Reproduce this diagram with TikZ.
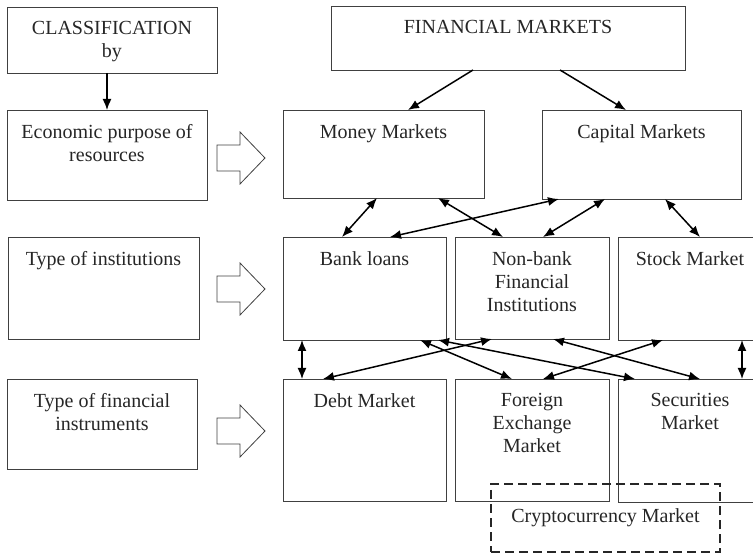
\documentclass[tikz,border=0pt]{standalone}
\usepackage{fontspec}
\setmainfont{Liberation Serif}
\usepackage{tikz}
\usetikzlibrary{arrows.meta,positioning,calc}

\newcommand{\boxfont}{\fontsize{20}{23}\selectfont}

\begin{document}
\begin{tikzpicture}[
  x=1pt, y=-1pt,
  box/.style={rectangle, draw=black!75, line width=0.9pt, inner sep=0pt,
    outer sep=0pt},
  boxtext/.style={anchor=north, yshift=-14pt, inner sep=0pt, align=center,
    font=\boxfont, text=black!85},
  link/.style={{Latex[length=11pt,width=9pt]}-{Latex[length=11pt,width=9pt]},
    line width=1.5pt},
  down/.style={-{Latex[length=11pt,width=9pt]}, line width=1.5pt},
  blockarrow/.style={draw=black!75, line width=0.8pt, fill=white}
]
\useasboundingbox (0,0) rectangle (753,553);
\clip (0,0) rectangle (753,553);

% Left column: classification criteria
\node[box, minimum width=210pt, minimum height=66pt,
  label={[boxtext]north:{CLASSIFICATION\\by}}] (cls) at (112,40) {};
\node[box, minimum width=200pt, minimum height=90pt,
  label={[boxtext]north:{Economic purpose of\\resources}}] (econ) at (107,155) {};
\node[box, minimum width=191pt, minimum height=102pt,
  label={[boxtext]north:{Type of institutions}}] (inst) at (103.5,288) {};
\node[box, minimum width=190pt, minimum height=90pt,
  label={[boxtext]north:{Type of financial\\instruments}}] (instr) at (102,424) {};

% Top
\node[box, minimum width=354pt, minimum height=64pt,
  label={[boxtext]north:{FINANCIAL MARKETS}}] (fm) at (508,38) {};

% Row 1
\node[box, minimum width=201pt, minimum height=88pt,
  label={[boxtext]north:{Money Markets}}] (mm) at (383.5,154) {};
\node[box, minimum width=199pt, minimum height=89pt,
  label={[boxtext]north:{Capital Markets}}] (cap) at (641.5,154.5) {};

% Row 2
\node[box, minimum width=163pt, minimum height=103pt,
  label={[boxtext]north:{Bank loans}}] (bank) at (364.5,288.5) {};
\node[box, minimum width=154pt, minimum height=102pt,
  label={[boxtext]north:{Non-bank\\Financial\\Institutions}}] (nonbank) at (532,288) {};
\node[box, minimum width=144pt, minimum height=103pt,
  label={[boxtext]north:{Stock Market}}] (stock) at (690,288.5) {};

% Row 3
\node[box, minimum width=163pt, minimum height=122pt,
  label={[boxtext]north:{Debt Market}}] (debt) at (364.5,440) {};
\node[box, minimum width=154pt, minimum height=122pt,
  label={[boxtext]north:{Foreign\\Exchange\\Market}}] (forex) at (532,440) {};
\node[box, minimum width=144pt, minimum height=123pt,
  label={[boxtext]north:{Securities\\Market}}] (sec) at (690,440.5) {};

% Dashed extension
\node[rectangle, draw=black!85, line width=2.3pt, dash pattern=on 9pt off 5pt,
  minimum width=229pt, minimum height=68pt, inner sep=0pt, outer sep=0pt,
  font=\boxfont, text=black!85] (crypto) at (605.5,518) {Cryptocurrency Market};

% Block arrows
\foreach \yc in {158,289,431}
  \draw[blockarrow] (217,\yc-13) -- (240,\yc-13) -- (240,\yc-26) -- (265,\yc)
    -- (240,\yc+26) -- (240,\yc+13) -- (217,\yc+13) -- cycle;

% Arrows
\draw[down] ([xshift=100pt]cls.south west) -- ([xshift=100pt]econ.north west);
\draw[down] ([xshift=142pt]fm.south west) -- ([xshift=125pt]mm.north west);
\draw[down] ([xshift=229pt]fm.south west) -- ([xshift=84pt]cap.north west);

\draw[link] ([xshift=94pt]mm.south west) -- ([xshift=59pt]bank.north west);
\draw[link] ([xshift=155pt]mm.south west) -- ([xshift=48pt]nonbank.north west);
\draw[link] ([xshift=17pt]cap.south west) -- ([xshift=107pt]bank.north west);
\draw[link] ([xshift=63pt]cap.south west) -- ([xshift=88pt]nonbank.north west);
\draw[link] ([xshift=123pt]cap.south west) -- ([xshift=82pt]stock.north west);

\draw[link] ([xshift=19pt]bank.south west) -- ([xshift=19pt]debt.north west);
\draw[link] ([xshift=137pt]bank.south west) -- ([xshift=57pt]forex.north west);
\draw[link] ([xshift=155pt]bank.south west) -- ([xshift=17pt]sec.north west);
\draw[link] ([xshift=37pt]nonbank.south west) -- ([xshift=40pt]debt.north west);
\draw[link] ([xshift=98pt]nonbank.south west) -- ([xshift=82pt]sec.north west);
\draw[link] ([xshift=45pt]stock.south west) -- ([xshift=88pt]forex.north west);
\draw[link] ([xshift=124pt]stock.south west) -- ([xshift=124pt]sec.north west);

\end{tikzpicture}
\end{document}
